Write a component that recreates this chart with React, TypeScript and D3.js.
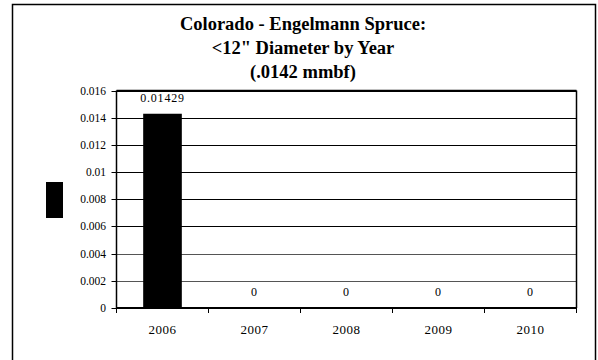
import React from "react";
import * as d3 from "d3";

const categories = ["2006", "2007", "2008", "2009", "2010"];
const values = [0.01429, 0, 0, 0, 0];
const valueLabels = ["0.01429", "0", "0", "0", "0"];
const yTicks = [0, 0.002, 0.004, 0.006, 0.008, 0.01, 0.012, 0.014, 0.016];
const yTickLabels = ["0", "0.002", "0.004", "0.006", "0.008", "0.01", "0.012", "0.014", "0.016"];
const titleLines = ["Colorado - Engelmann Spruce:", "<12\" Diameter by Year", "(.0142 mmbf)"];

const W = 598, H = 360;
const plot = { left: 116.5, right: 576.5, top: 90.5, bottom: 308 };
const font = "Liberation Serif, Times New Roman, serif";

export default function App() {
  const x = d3.scaleBand<string>().domain(categories).range([plot.left, plot.right]).paddingInner(0.58).paddingOuter(0.29);
  const xOuter = d3.scaleBand<string>().domain(categories).range([plot.left, plot.right]);
  const y = d3.scaleLinear().domain([0, 0.016]).range([plot.bottom, plot.top]);
  return (
    <div style={{ position: "absolute", left: 0, top: 0 }}>
      <svg width={W} height={H} style={{ display: "block" }}>
        <rect x={0} y={0} width={W} height={H} fill="#fff" />
        <rect x={12.5} y={4.5} width={583} height={360} fill="none" stroke="#000" strokeWidth={1.5} />
        {titleLines.map((t, i) => (
          <text key={i} x={303} y={29.5 + i * 24} textAnchor="middle" fontFamily={font} fontWeight="bold" fontSize={18.5} fill="#000">{t}</text>
        ))}
        {yTicks.map((v, i) => (
          <g key={i}>
            {i > 0 && <line x1={plot.left} x2={plot.right} y1={Math.round(y(v)) + 0.5} y2={Math.round(y(v)) + 0.5} stroke={v <= 0.004 ? "#555" : "#000"} strokeWidth={1} />}
            <line x1={plot.left - 5} x2={plot.left} y1={Math.round(y(v)) + 0.5} y2={Math.round(y(v)) + 0.5} stroke="#000" />
            <text x={106} y={y(v) + 4} textAnchor="end" fontFamily={font} fontSize={11.5} fill="#000">{yTickLabels[i]}</text>
          </g>
        ))}
        {categories.map((c, i) => (
          <rect key={c} x={x(c)} y={y(values[i])} width={x.bandwidth()} height={plot.bottom - y(values[i])} fill="#000" />
        ))}
        {categories.map((c, i) => (
          <text key={c} x={(x(c) as number) + x.bandwidth() / 2} y={y(values[i]) - 12} textAnchor="middle" fontFamily={font} fontSize={12} letterSpacing={0.8} fill="#000">{valueLabels[i]}</text>
        ))}
        <line x1={plot.left} x2={plot.right} y1={plot.top} y2={plot.top} stroke="#000" strokeWidth={1.5} />
        <line x1={plot.right} x2={plot.right} y1={plot.top} y2={plot.bottom} stroke="#000" strokeWidth={1.5} />
        <line x1={plot.left} x2={plot.left} y1={plot.top} y2={plot.bottom} stroke="#000" strokeWidth={1.5} />
        <line x1={plot.left} x2={plot.right} y1={plot.bottom} y2={plot.bottom} stroke="#000" strokeWidth={2} />
        {categories.map((c) => (
          <line key={c} x1={xOuter(c)} x2={xOuter(c)} y1={plot.bottom} y2={plot.bottom + 5} stroke="#000" />
        ))}
        <line x1={plot.right} x2={plot.right} y1={plot.bottom} y2={plot.bottom + 5} stroke="#000" />
        {categories.map((c) => (
          <text key={c} x={(xOuter(c) as number) + xOuter.bandwidth() / 2} y={334} textAnchor="middle" fontFamily={font} fontSize={13} letterSpacing={0.5} fill="#000">{c}</text>
        ))}
        <rect x={46} y={182} width={17} height={36} fill="#000" />
      </svg>
    </div>
  );
}
